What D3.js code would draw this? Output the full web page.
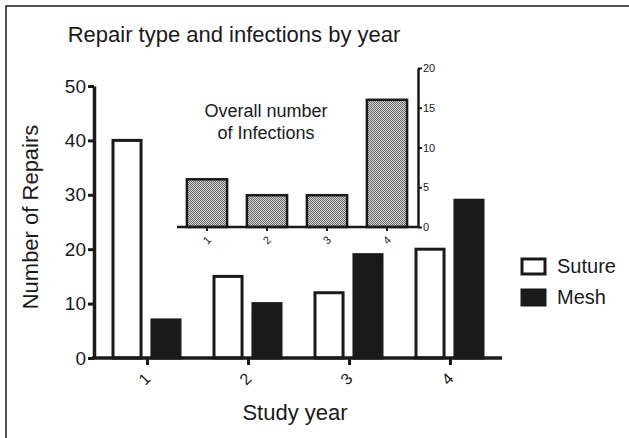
<!DOCTYPE html>
<html>
<head>
<meta charset="utf-8">
<script src="https://cdn.jsdelivr.net/npm/d3@7"></script>
<style>
  body { margin: 0; background: #fff; }
  svg { display: block; font-family: "Liberation Sans", Arial, sans-serif; }
</style>
</head>
<body>
<svg id="chart"></svg>
<script>
// data
const years = ["1", "2", "3", "4"];
const repairTypes = ["Suture", "Mesh"];
const sutureRepairs = [40, 15, 12, 20];
const meshRepairs = [7, 10, 19, 29];
const infections = [6, 4, 4, 16];
const mainTicks = [0, 10, 20, 30, 40, 50];
const insetTicks = [0, 5, 10, 15, 20];

const width = 629, height = 438;
const svg = d3.select("#chart").attr("width", width).attr("height", height);
const ink = "#1a1a1a";

// outer frame (only top and left edges are visible)
svg.append("path")
    .attr("d", "M6,438 V6 H629")
    .attr("fill", "none").attr("stroke", ink).attr("stroke-width", 1.5);

// halftone pattern for inset bars
const defs = svg.append("defs");
const pat = defs.append("pattern").attr("id", "dots")
    .attr("width", 2).attr("height", 2).attr("patternUnits", "userSpaceOnUse");
pat.append("rect").attr("width", 2).attr("height", 2).attr("fill", "#d4d4d4");
pat.append("rect").attr("width", 1).attr("height", 1).attr("fill", "#6a6a6a");
pat.append("rect").attr("x", 1).attr("y", 1).attr("width", 1).attr("height", 1).attr("fill", "#6a6a6a");

// title
svg.append("text")
    .attr("x", 234).attr("y", 42)
    .attr("text-anchor", "middle").attr("font-size", "22px").attr("fill", ink)
    .text("Repair type and infections by year");

// main scales
const x = d3.scaleBand().domain(years).range([97, 501]);
const xSub = d3.scaleBand().domain(repairTypes).range([16, 83]).paddingInner(0.28);
const y = d3.scaleLinear().domain([0, 50]).range([358, 86]);

const rows = years.map((yr, i) => ({ year: yr, Suture: sutureRepairs[i], Mesh: meshRepairs[i] }));

// bars
const groups = svg.append("g").selectAll("g").data(rows).join("g")
    .attr("transform", d => `translate(${x(d.year)},0)`);
groups.selectAll("rect")
    .data(d => repairTypes.map(k => ({ key: k, value: d[k] })))
    .join("rect")
    .attr("x", d => xSub(d.key))
    .attr("y", d => y(d.value))
    .attr("width", xSub.bandwidth())
    .attr("height", d => y(0) - y(d.value))
    .attr("fill", d => d.key === "Suture" ? "#fff" : ink)
    .attr("stroke", ink).attr("stroke-width", 3);

// main y axis
const yAxis = svg.append("g").attr("transform", "translate(94,0)")
    .call(d3.axisLeft(y).tickValues(mainTicks).tickSize(6).tickPadding(2).tickSizeOuter(0));
yAxis.select(".domain").attr("stroke", ink).attr("stroke-width", 3.5);
yAxis.selectAll(".tick line").attr("stroke", ink).attr("stroke-width", 3);
yAxis.selectAll(".tick text").attr("font-size", "19px").attr("fill", ink)
    .attr("font-family", "Liberation Sans, Arial, sans-serif");

// main x axis
const xAxisG = svg.append("g").attr("transform", "translate(0,358)");
xAxisG.append("line").attr("x1", 92).attr("x2", 502)
    .attr("stroke", ink).attr("stroke-width", 3.5);
const xAxis = xAxisG.append("g")
    .call(d3.axisBottom(x).tickSize(7).tickSizeOuter(0).tickPadding(8));
xAxis.select(".domain").remove();
xAxis.selectAll(".tick line").attr("stroke", ink).attr("stroke-width", 3);
xAxis.selectAll(".tick text")
    .attr("font-size", "16px").attr("fill", ink)
    .attr("font-family", "Liberation Sans, Arial, sans-serif")
    .attr("text-anchor", "middle")
    .attr("transform", "translate(-3,21) rotate(-45)")
    .attr("y", 0).attr("dy", "0.35em");

// axis titles
svg.append("text")
    .attr("x", 295).attr("y", 420)
    .attr("text-anchor", "middle").attr("font-size", "22px").attr("fill", ink)
    .text("Study year");
svg.append("text")
    .attr("transform", "translate(38,217) rotate(-90)")
    .attr("text-anchor", "middle").attr("font-size", "22px").attr("fill", ink)
    .text("Number of Repairs");

// legend
const legend = svg.append("g").selectAll("g").data(repairTypes).join("g")
    .attr("transform", (d, i) => `translate(522,${259 + i * 31})`);
legend.append("rect")
    .attr("width", 23).attr("height", 15)
    .attr("fill", d => d === "Suture" ? "#fff" : ink)
    .attr("stroke", ink).attr("stroke-width", 3);
legend.append("text")
    .attr("x", 35).attr("y", 14)
    .attr("font-size", "20px").attr("fill", ink)
    .text(d => d);

// inset chart
const xi = d3.scaleBand().domain(years).range([177, 417]).paddingInner(0.33).paddingOuter(0.165);
const yi = d3.scaleLinear().domain([0, 20]).range([227, 68]);

svg.append("g").selectAll("rect").data(infections).join("rect")
    .attr("x", (d, i) => xi(years[i]))
    .attr("y", d => yi(d))
    .attr("width", xi.bandwidth())
    .attr("height", d => yi(0) - yi(d))
    .attr("fill", "url(#dots)")
    .attr("stroke", ink).attr("stroke-width", 2.5);

const xiAxis = svg.append("g").attr("transform", "translate(0,227)")
    .call(d3.axisBottom(xi).tickSize(4).tickSizeOuter(0).tickPadding(4));
xiAxis.select(".domain").remove();
svg.append("line").attr("x1", 177).attr("x2", 419).attr("y1", 227).attr("y2", 227)
    .attr("stroke", ink).attr("stroke-width", 2.5);
xiAxis.selectAll(".tick line").attr("stroke", ink).attr("stroke-width", 2);
xiAxis.selectAll(".tick text")
    .attr("font-size", "11px").attr("fill", ink)
    .attr("font-family", "Liberation Sans, Arial, sans-serif")
    .attr("text-anchor", "middle")
    .attr("transform", "translate(0,13) rotate(-45)")
    .attr("y", 0).attr("dy", "0.35em");

const yiAxis = svg.append("g").attr("transform", "translate(418,0)")
    .call(d3.axisRight(yi).tickValues(insetTicks).tickSize(4).tickPadding(1).tickSizeOuter(0));
yiAxis.select(".domain").attr("stroke", ink).attr("stroke-width", 2.5);
yiAxis.selectAll(".tick line").attr("stroke", ink).attr("stroke-width", 2);
yiAxis.selectAll(".tick text").attr("font-size", "11px").attr("fill", ink)
    .attr("font-family", "Liberation Sans, Arial, sans-serif");

svg.append("text")
    .attr("x", 266).attr("text-anchor", "middle").attr("font-size", "18px").attr("fill", ink)
    .selectAll("tspan").data(["Overall number", "of Infections"]).join("tspan")
    .attr("x", 266).attr("y", (d, i) => 117 + i * 22)
    .text(d => d);
</script>
</body>
</html>
